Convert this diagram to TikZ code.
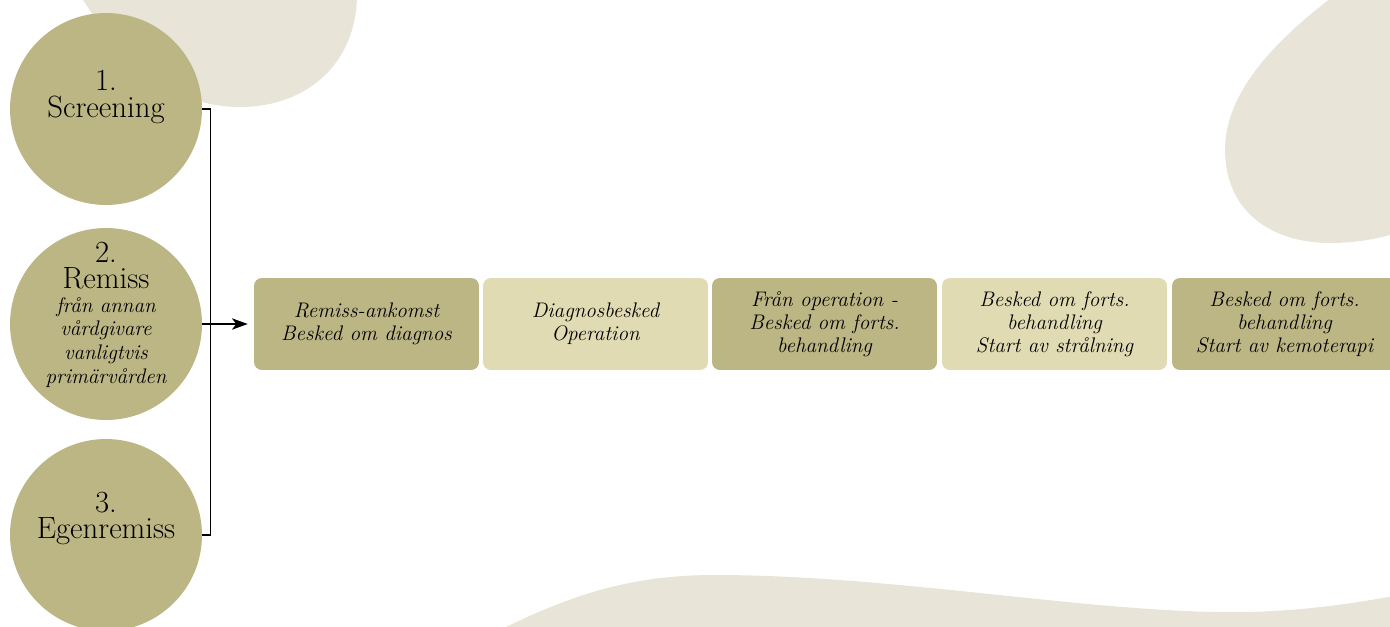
\documentclass[tikz,border=0pt]{standalone}
\usepackage{fontspec}
\usetikzlibrary{arrows.meta}
\definecolor{dark}{HTML}{BCB584}
\definecolor{light}{HTML}{E1DBB3}
\definecolor{blob}{HTML}{E8E5D8}
\tikzset{
  stage/.style={circle, fill=dark, minimum size=3.84cm, inner sep=0pt},
  boxd/.style={rectangle, rounded corners=4.5pt, fill=dark, minimum width=4.5cm, minimum height=1.84cm, align=center, font=\itshape\fontsize{12}{13}\selectfont, inner sep=2pt},
  boxl/.style={boxd, fill=light},
  big/.style={align=center, font=\fontsize{17.5}{14.8}\selectfont, inner sep=0pt},
  small/.style={align=center, font=\itshape\fontsize{12}{13.6}\selectfont, inner sep=0pt},
  conn/.style={line width=0.7pt, black}
}
\begin{document}
\begin{tikzpicture}[x=0.02cm, y=-0.02cm]
\useasboundingbox (0,0) rectangle (1390,626);
% background blobs
\fill[blob] (80,-5) .. controls (120,60) and (170,107) .. (240,107) .. controls (310,107) and (357,60) .. (357,-5) -- cycle;
\fill[blob] (1335,-5) .. controls (1262,50) and (1225,100) .. (1225,150) .. controls (1225,210) and (1270,243) .. (1330,243) .. controls (1360,243) and (1380,238) .. (1400,232) -- (1400,-5) -- cycle;
\fill[blob] (500,630) .. controls (580,590) and (640,575) .. (715,575) .. controls (900,575) and (1100,615) .. (1250,612) .. controls (1320,610) and (1370,600) .. (1400,595) -- (1400,630) -- cycle;
% circles
\node[stage] (c1) at (106,109) {};
\node[stage] (c2) at (106,324) {};
\node[stage] (c3) at (106,535) {};
\node[big, font=\fontsize{17.5}{15.4}\selectfont] (t1) at (106,96.5) {1.\\Screening};
\node[big] (t2) at (106,265.5) {2.\\Remiss};
\node[small] (s2) at (106,342.5) {från annan\\vårdgivare\\vanligtvis\\primärvården};
\node[big] (t3) at (106,518.5) {3.\\Egenremiss};
% boxes
\node[boxd] (b1) at (366.5,324) {Remiss-ankomst\\Besked om diagnos};
\node[boxl] (b2) at (595.5,324) {Diagnosbesked\\Operation};
\node[boxd] (b3) at (824.5,324) {Från operation -\\Besked om forts.\\behandling};
\node[boxl] (b4) at (1054.5,324) {Besked om forts.\\behandling\\Start av strålning};
\node[boxd] (b5) at (1284.5,324) {Besked om forts.\\behandling\\Start av kemoterapi};
% connectors
\draw[conn] (c1.east) -- ++(8,0) |- (c3.east);
\draw[conn, -{Stealth[length=9pt, width=6.5pt, inset=2.5pt]}, shorten >=3.4pt] (c2.east) -- (b1.west);
\end{tikzpicture}
\end{document}
